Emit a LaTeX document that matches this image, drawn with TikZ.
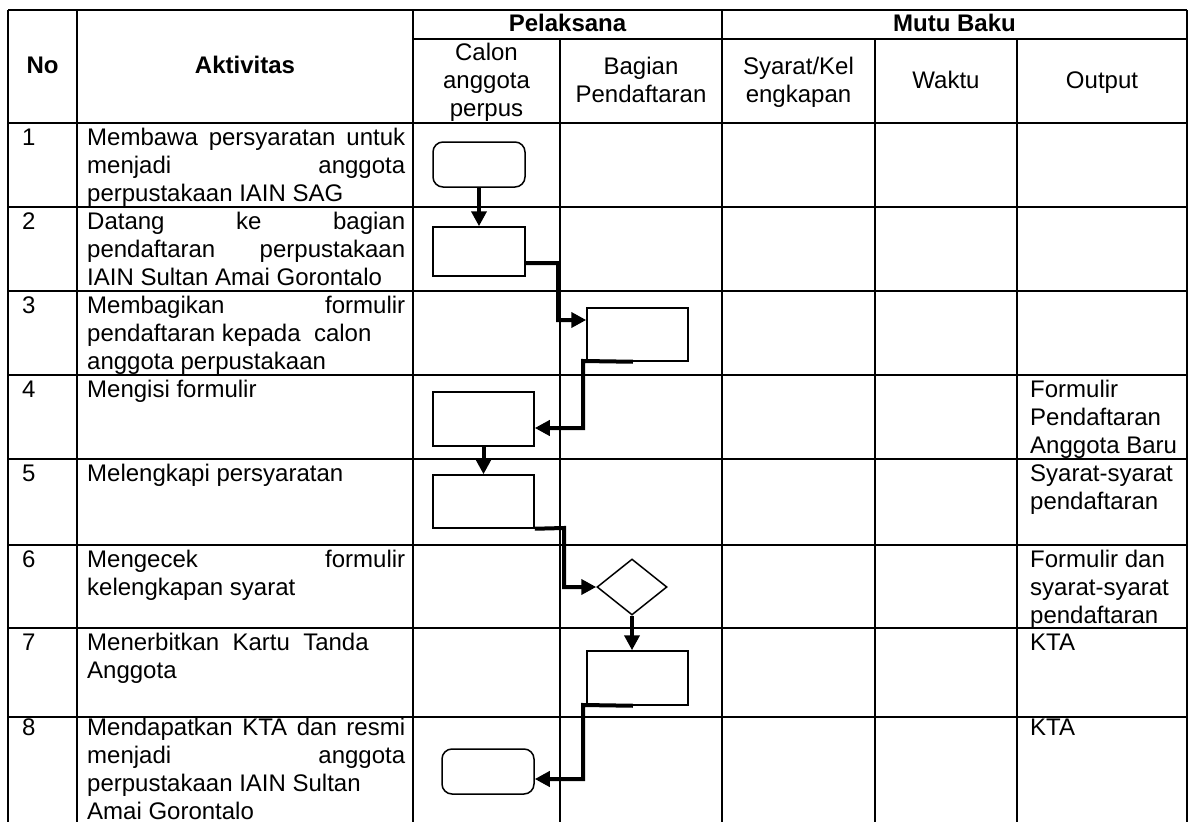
\documentclass[tikz,border=0pt]{standalone}
\usepackage{fontspec}
\setmainfont{Liberation Sans}
\usetikzlibrary{arrows.meta,shapes.geometric}
\newcommand\LL[1]{\vtop{\baselineskip=28bp\lineskiplimit=-100bp\lineskip=0pt\halign{##\hfil\cr#1\crcr}}}
\newcommand\CL[1]{\vtop{\baselineskip=28bp\lineskiplimit=-100bp\lineskip=0pt\halign{\hfil##\hfil\cr#1\crcr}}}
\newcommand\JL[1]{\makebox[318bp][s]{#1}}
\begin{document}
\begin{tikzpicture}[x=1bp,y=-1bp,
 grid/.style={line width=2bp},
 txt/.style={inner sep=0pt,anchor=base west,font=\fontsize{24bp}{28bp}\selectfont},
 ctxt/.style={txt,anchor=base},
 hd/.style={ctxt,font=\fontsize{24bp}{28bp}\selectfont\bfseries},
 proc/.style={draw,line width=1.5bp,minimum width=101bp,minimum height=53bp,inner sep=0pt},
 term/.style={proc,rounded corners=10bp,minimum width=92bp,minimum height=45bp},
 dec/.style={draw,diamond,line width=1.5bp,minimum width=70bp,minimum height=56bp,inner sep=0pt},
 conn/.style={line width=4bp,-{Triangle[length=15bp,width=15bp]}}
]
\fill[white] (0,0) rectangle (1194,822);
\useasboundingbox (0,0) rectangle (1194,822);
% grid
\foreach \yy in {10,123,207,291,375,459,545,628,717}
  \draw[grid] (8,\yy) -- (1187,\yy);
\draw[grid] (413,39) -- (1187,39);
\foreach \xx in {8,77,413,722,1187}
  \draw[grid] (\xx,10) -- (\xx,823);
\foreach \xx in {560,875,1017}
  \draw[grid] (\xx,39) -- (\xx,823);
% headers
\node[hd] (hno) at (42.5,74) {No};
\node[hd] (hakt) at (245,74) {Aktivitas};
\node[hd] (hpel) at (567.5,32) {Pelaksana};
\node[hd] (hmutu) at (954.5,32) {Mutu Baku};
\node[ctxt] (hcalon) at (486.5,61) {\CL{Calon\cr anggota\cr perpus}};
\node[ctxt] (hbag) at (641,75) {\CL{Bagian\cr Pendaftaran}};
\node[ctxt] (hsy) at (798.5,75) {\CL{Syarat/Kel\cr engkapan}};
\node[ctxt] (hwaktu) at (946,89) {Waktu};
\node[ctxt] (hout) at (1102,89) {Output};
% rows
\node[txt] (n1) at (22,145) {1};
\node[txt] (a1) at (87,145) {\LL{\JL{Membawa persyaratan untuk}\cr\JL{menjadi anggota}\cr perpustakaan IAIN SAG}};
\node[txt] (n2) at (22,229) {2};
\node[txt] (a2) at (87,229) {\LL{\JL{Datang ke bagian}\cr\JL{pendaftaran perpustakaan}\cr IAIN Sultan Amai Gorontalo}};
\node[txt] (n3) at (22,313) {3};
\node[txt] (a3) at (87,313) {\LL{\JL{Membagikan formulir}\cr pendaftaran kepada\ \ calon\cr anggota perpustakaan}};
\node[txt] (n4) at (22,397) {4};
\node[txt] (a4) at (87,397) {Mengisi formulir};
\node[txt] (o4) at (1030,397) {\LL{Formulir\cr Pendaftaran\cr Anggota Baru}};
\node[txt] (n5) at (22,481) {5};
\node[txt] (a5) at (87,481) {Melengkapi persyaratan};
\node[txt] (o5) at (1030,481) {\LL{Syarat-syarat\cr pendaftaran}};
\node[txt] (n6) at (22,567) {6};
\node[txt] (a6) at (87,567) {\LL{\JL{Mengecek formulir}\cr kelengkapan syarat}};
\node[txt] (o6) at (1030,567) {\LL{Formulir dan\cr syarat-syarat\cr pendaftaran}};
\node[txt] (n7) at (22,650) {7};
\node[txt] (a7) at (87,650) {\LL{Menerbitkan\ \ Kartu\ \ Tanda\cr Anggota}};
\node[txt] (o7) at (1030,650) {KTA};
\node[txt] (n8) at (22,735) {8};
\node[txt] (a8) at (87,735) {\LL{\JL{Mendapatkan KTA dan resmi}\cr\JL{menjadi anggota}\cr perpustakaan IAIN Sultan\cr Amai Gorontalo}};
\node[txt] (o8) at (1030,735) {KTA};
% flow shapes
\node[term] (b1) at (479,164.5) {};
\node[proc,minimum width=92bp,minimum height=49bp] (b2) at (479,251.5) {};
\node[proc] (b3) at (637.5,334.5) {};
\node[proc,minimum height=54bp] (b4) at (483.5,419) {};
\node[proc] (b5) at (483.5,501.5) {};
\node[dec] (d6) at (632,587) {};
\node[proc,minimum height=54bp] (b7) at (637.5,678) {};
\node[term] (b8) at (488,771.5) {};
% connectors
\draw[conn] (b1.south) -- (b2.north);
\draw[conn] ([yshift=-11.5bp]b2.east) -- (558,263) -- (558,320) -- ([yshift=14.5bp]b3.west);
\draw[conn] ([xshift=-4.5bp]b3.south) -- (583,361) -- (583,428) -- ([yshift=-9bp]b4.east);
\draw[conn] (b4.south) -- (b5.north);
\draw[conn] (b5.south east) -- (564,528) -- (564,587) -- (d6.west);
\draw[conn] (d6.south) -- (d6.south |- b7.north);
\draw[conn] ([xshift=-4.5bp]b7.south) -- (583,705) -- (583,779) -- ([yshift=-7.5bp]b8.east);
\end{tikzpicture}
\end{document}
